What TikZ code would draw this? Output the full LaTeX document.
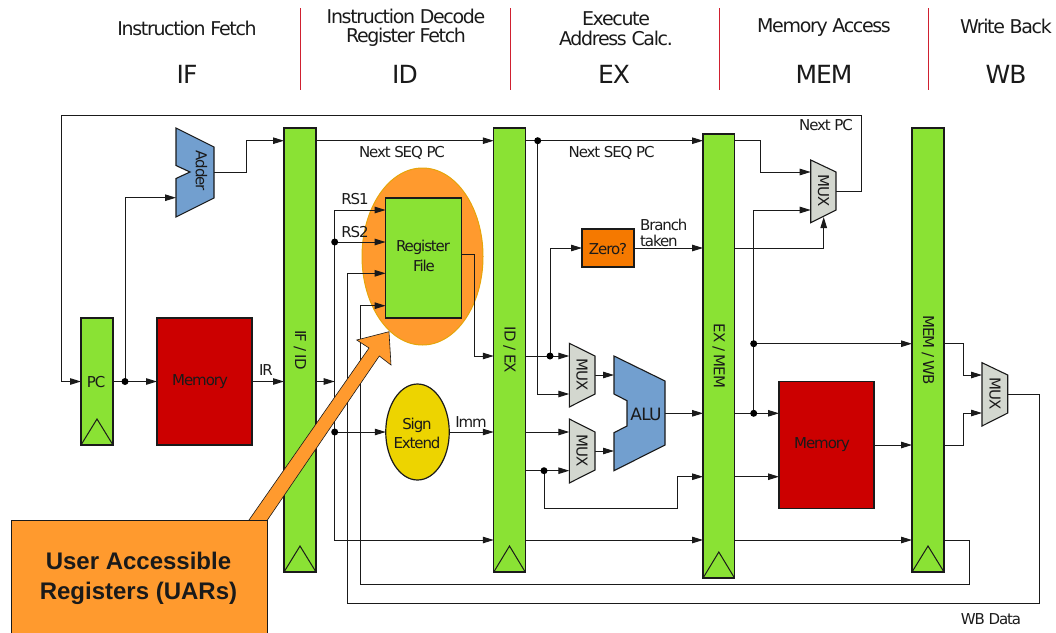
\documentclass[tikz,border=0pt]{standalone}
\usepackage{fontspec}
\setmainfont{DejaVu Sans}[LetterSpace=-4]
\newfontfamily\boxfont{Liberation Sans}[Scale=1]
\usetikzlibrary{arrows.meta,calc,shapes.geometric}
\definecolor{reggreen}{HTML}{8AE234}
\definecolor{memred}{HTML}{CC0000}
\definecolor{aluBlue}{HTML}{729FCF}
\definecolor{muxgrey}{HTML}{D3D7CF}
\definecolor{signyellow}{HTML}{EDD400}
\definecolor{zeroorange}{HTML}{F57900}
\definecolor{uarorange}{HTML}{FF9A2E}
\definecolor{uaredge}{HTML}{E5A50A}
\definecolor{divred}{HTML}{D02030}
\definecolor{ink}{HTML}{1A1A1A}
\tikzset{
  wire/.style={draw=ink,line width=1pt},
  awire/.style={wire,-{Triangle[length=11pt,width=6.5pt]}},
  block/.style={draw=ink,line width=1.2pt,inner sep=0pt,outer sep=0pt,fill=#1},
  poly/.style={draw=ink,line width=1.1pt,fill=#1},
  lab/.style={inner sep=0pt,yshift=-1pt,font=\fontsize{15}{15}\selectfont\addfontfeature{LetterSpace=-7},text=ink},
  vlab/.style={inner sep=0pt,font=\fontsize{15}{15}\selectfont\addfontfeature{LetterSpace=-7},text=ink},
  small/.style={inner sep=0pt,yshift=-1pt,font=\fontsize{15}{15}\selectfont\addfontfeature{LetterSpace=-7.5},text=ink},
  head/.style={inner sep=0pt,yshift=-.5pt,font=\fontsize{19}{19}\selectfont\addfontfeature{LetterSpace=-7},text=ink},
  stage/.style={inner sep=0pt,yshift=-.5pt,font=\fontsize{25}{25}\selectfont,text=ink},
  dot/.style={circle,fill=black,inner sep=0pt,minimum size=7pt},
  divider/.style={draw=divred,line width=1pt},
  clock/.style={draw=ink,line width=1pt}
}
\begin{document}
\begin{tikzpicture}[x=1pt,y=-1pt]
\useasboundingbox (0,0) rectangle (1056,632);
% header
\node[head] (h1) at (187,28) {Instruction Fetch};
\node[head] (h2a) at (406,16) {Instruction Decode};
\node[head] (h2b) at (406,37) {Register Fetch};
\node[head] (h3a) at (616,18) {Execute};
\node[head] (h3b) at (616,38) {Address Calc.};
\node[head] (h4) at (824,27) {Memory Access};
\node[head] (h5) at (1006,26) {Write Back};
\node[stage] (s1) at (187,74) {IF};
\node[stage] (s2) at (405,74) {ID};
\node[stage] (s3) at (614,74) {EX};
\node[stage] (s4) at (824,74) {MEM};
\node[stage] (s5) at (1006,74) {WB};
\foreach \x in {300,510,719,928} \draw[divider] (\x,8) -- (\x,90);
% highlight
\node[ellipse,draw=uaredge,line width=1pt,fill=uarorange,minimum width=121pt,minimum height=177pt,inner sep=0pt] (uar) at (422.5,256.5) {};
% blocks (named first so wires can refer to them)
\path
  node[block=reggreen,minimum width=32pt,minimum height=127pt] (pc) at (97,381.5) {}
  node[block=memred,minimum width=95pt,minimum height=127pt] (mem1) at (204.5,381.5) {}
  node[block=reggreen,minimum width=32pt,minimum height=444pt] (ifid) at (300,350) {}
  node[block=reggreen,minimum width=31.5pt,minimum height=444pt] (idex) at (509.5,350) {}
  node[block=reggreen,minimum width=31.5pt,minimum height=444pt] (exmem) at (718.8,356) {}
  node[block=reggreen,minimum width=32pt,minimum height=444pt] (memwb) at (928,350) {}
  node[block=reggreen,minimum width=75.5pt,minimum height=120pt] (rf) at (423.4,258) {}
  node[block=zeroorange,minimum width=52pt,minimum height=38pt] (zero) at (608,248) {}
  node[block=memred,minimum width=95pt,minimum height=126.5pt] (mem2) at (826.5,445) {}
  node[ellipse,block=signyellow,minimum width=63.5pt,minimum height=96pt] (sign) at (417.5,432) {};
% junctions
\coordinate (loopR) at (861.6,115);
\coordinate (loopL) at (61.6,115);
\coordinate (adin) at (176,197.7);
\coordinate (adout) at (214,172);
\coordinate (m3a) at (810.7,172);
\coordinate (m3b) at (810.7,210);
\coordinate (m3c) at (823.7,217);
\coordinate (m3o) at (836,191);
\coordinate (m1a) at (569.3,356);
\coordinate (m1b) at (569.3,394);
\coordinate (m1o) at (595,375);
\coordinate (m2a) at (569.3,432);
\coordinate (m2b) at (569.3,470.7);
\coordinate (m2o) at (595,451);
\coordinate (m4a) at (982,375);
\coordinate (m4b) at (982,413);
\coordinate (m4o) at (1007.7,394);
\coordinate (alua) at (614,375);
\coordinate (alub) at (614,451);
\coordinate (aluo) at (665,413.3);
\coordinate (dpc) at (125,381.5);
\coordinate (dir) at (334.7,381.5);
\coordinate (drs) at (334.7,242);
\coordinate (dimm) at (334.7,432);
\coordinate (dnext) at (537.7,140.7);
\coordinate (dmux) at (550,356);
\coordinate (dfwd) at (544,470.7);
\coordinate (dalu) at (753.7,413.3);
\coordinate (dalu2) at (753.7,343.7);
% wires
\draw[wire] (m3o) -- (loopR |- m3o) -- (loopR) -- (loopL) -- (loopL |- pc.west);
\draw[awire] (loopL |- pc.west) -- (pc.west);
\draw[awire] (pc.east) -- (mem1.west);
\draw[awire] (dpc) -- (dpc |- adin) -- (adin);
\draw[awire] (adout) -- (246,172) -- (246,140.7) -- (ifid.west |- dnext);
\draw[awire] (ifid.east |- dnext) -- (idex.west |- dnext);
\draw[awire] (mem1.east) -- (ifid.west |- mem1.east);
\draw[awire] (ifid.east |- dir) -- (dir);
\draw[awire] (334.7,210) -- (rf.west |- 0,210);
\draw[wire] (334.7,210) -- (dir);
\draw[awire] (drs) -- (rf.west |- drs);
\draw[awire] (dir) -- (dir |- 0,540) -- (idex.west |- 0,540);
\draw[awire] (dimm) -- (sign.west);
\draw[awire] (sign.east) -- (idex.west |- sign.east);
\draw[awire] (m4o) -- (1039.3,394) -- (1039.3,603.5) -- (347.3,603.5) -- (347.3,273.3) -- (rf.west |- 0,273.3);
\draw[awire] (memwb.east |- 0,540) -- (969.3,540) -- (969.3,584.7) -- (360,584.7) -- (360,305.7) -- (rf.west |- 0,305.7);
\draw[awire] (rf.east |- 0,254.7) -- (474.3,254.7) -- (474.3,356) -- (idex.west |- dmux);
\draw[awire] (idex.east |- dmux) -- (m1a);
\draw[awire] (dmux) -- (dmux |- zero) -- (zero.west);
\draw[wire] (idex.east |- dnext) -- (dnext);
\draw[awire] (dnext) -- (exmem.west |- dnext);
\draw[awire] (dnext) -- (dnext |- m1b) -- (m1b);
\draw[awire] (zero.east) -- (exmem.west |- zero.east);
\draw[awire] (exmem.east |- zero.east) -- (m3c |- zero.east) -- (m3c);
\draw[awire] (exmem.east |- dnext) -- (760,140.7) -- (760,172) -- (m3a);
\draw[awire] (dalu) -- (dalu |- m3b) -- (m3b);
\draw[awire] (dalu2) -- (memwb.west |- dalu2);
\draw[awire] (exmem.east |- dalu) -- (mem2.west |- dalu);
\draw[awire] (aluo) -- (exmem.west |- aluo);
\draw[awire] (m1o) -- (alua);
\draw[awire] (m2o) -- (alub);
\draw[awire] (idex.east |- m2a) -- (m2a);
\draw[awire] (idex.east |- m2b) -- (m2b);
\draw[awire] (dfwd) -- (dfwd |- 0,508.7) -- (677.3,508.7) -- (677.3,476.7) -- (exmem.west |- 0,476.7);
\draw[awire] (exmem.east |- 0,476.7) -- (mem2.west |- 0,476.7);
\draw[awire] (mem2.east) -- (memwb.west |- mem2.east);
\draw[awire] (memwb.east |- mem2.east) -- (963,445) -- (963,413) -- (m4b);
\draw[awire] (memwb.east |- dalu2) -- (963,343.7) -- (963,375) -- (m4a);
\draw[awire] (idex.east |- 0,540) -- (exmem.west |- 0,540);
\draw[awire] (exmem.east |- 0,540) -- (memwb.west |- 0,540);
\foreach \r in {pc,ifid,idex,exmem,memwb}
  \draw[clock] (\r.south west) -- ($(\r.south)+(0,-26)$) -- (\r.south east);
% polygons
\draw[poly=aluBlue] (176,128) -- (214,147) -- (214,198) -- (176,217) -- (176,178.5) -- (190,172) -- (176,165.5) -- cycle;
\draw[poly=muxgrey] (810.7,160) -- (836,172) -- (836,210) -- (810.7,222.7) -- cycle;
\draw[poly=muxgrey] (569.3,343.3) -- (595,356) -- (595,394) -- (569.3,407) -- cycle;
\draw[poly=muxgrey] (569.3,419) -- (595,432) -- (595,470) -- (569.3,483) -- cycle;
\draw[poly=muxgrey] (982,362.7) -- (1007.7,375) -- (1007.7,413) -- (982,426) -- cycle;
\draw[poly=aluBlue] (614,356) -- (665,381) -- (665,445) -- (614,470.7) -- (614,432.7) -- (627,426) -- (627,400.7) -- (614,394) -- cycle;
% dots
\foreach \d in {dpc,drs,dimm,dnext,dmux,dfwd,dalu,dalu2} \node[dot] (n\d) at (\d) {};
% labels
\node[lab] (tpc) at (96,381) {PC};
\node[lab] (tm1) at (200,381) {Memory};
\node[lab] (tm2) at (822,444) {Memory};
\node[vlab,rotate=-90] (t1) at (300,350) {IF / ID};
\node[vlab,rotate=-90] (t2) at (509.5,350) {ID / EX};
\node[vlab,rotate=-90] (t3) at (718.6,356) {EX / MEM};
\node[vlab,rotate=-90] (t4) at (928,350) {MEM / WB};
\node[vlab,rotate=-90] (tad) at (201.5,171) {Adder};
\node[vlab,rotate=-90] (tm3) at (823.5,191) {MUX};
\node[vlab,rotate=-90] (tm4a) at (582,375) {MUX};
\node[vlab,rotate=-90] (tm4b) at (582,451) {MUX};
\node[vlab,rotate=-90] (tm4c) at (995,394) {MUX};
\node[lab,font=\fontsize{17}{17}\selectfont] (talu) at (646,413) {ALU};
\node[small] (trf1) at (423,246) {Register};
\node[small] (trf2) at (424,265) {File};
\node[small] (ts1) at (417,424) {Sign};
\node[small] (ts2) at (417,442) {Extend};
\node[lab] (tz) at (608,248) {Zero?};
\node[small] (timm) at (471,421) {Imm};
\node[small] (tir) at (266,369) {IR};
\node[small] (trs1) at (355,198.5) {RS1};
\node[small] (trs2) at (355,231) {RS2};
\node[small] (tn1) at (402,152) {Next SEQ PC};
\node[small] (tn2) at (611.6,152) {Next SEQ PC};
\node[small] (tnp) at (826,124.5) {Next PC};
\node[small] (twb) at (991,618) {WB Data};
\node[small,anchor=west] (tb1) at (640,223.5) {Branch};
\node[small,anchor=west] (tb2) at (640,239.5) {taken};
% call-out
\draw[draw=ink,line width=.6pt,fill=uarorange] (248.3,521) -- (369,348) -- (356.7,340) -- (389,331.7) -- (391,365) -- (379.3,356) -- (266.7,521) -- cycle;
\node[draw=ink,line width=1pt,fill=uarorange,minimum width=256pt,minimum height=113pt,inner sep=0pt,outer sep=0pt] (callout) at (139,576.5) {};
\node[inner sep=0pt,align=center,text=ink,font=\boxfont\bfseries\fontsize{24}{30}\selectfont] (tcall) at (138.5,578) {User Accessible\\Registers (UARs)};
\end{tikzpicture}
\end{document}
